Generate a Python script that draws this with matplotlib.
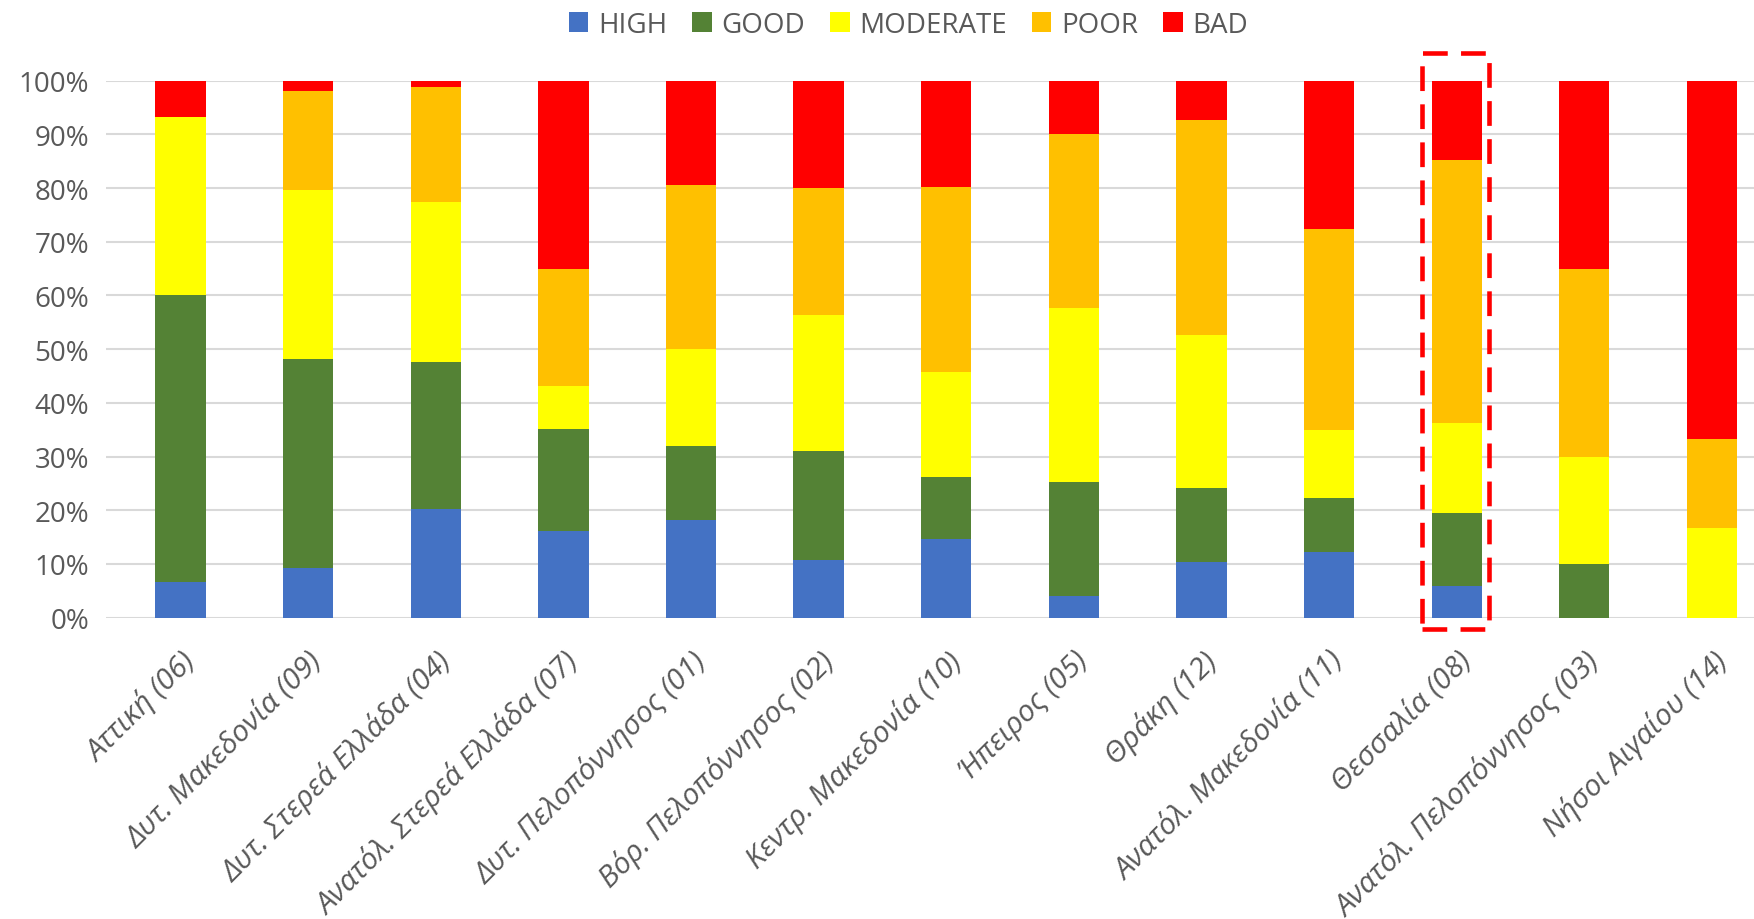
import matplotlib
matplotlib.use("Agg")
import matplotlib.pyplot as plt
from matplotlib.patches import Rectangle
from matplotlib.ticker import PercentFormatter
import numpy as np

regions = [
    "Αττική (06)", "Δυτ. Μακεδονία (09)", "Δυτ. Στερεά Ελλάδα (04)",
    "Ανατόλ. Στερεά Ελλάδα (07)", "Δυτ. Πελοπόννησος (01)",
    "Βόρ. Πελοπόννησος (02)", "Κεντρ. Μακεδονία (10)", "Ήπειρος (05)",
    "Θράκη (12)", "Ανατόλ. Μακεδονία (11)", "Θεσσαλία (08)",
    "Ανατόλ. Πελοπόννησος (03)", "Νήσοι Αιγαίου (14)",
]

# share of water bodies per status class (%)
high = [6.7, 9.3, 20.3, 16.2, 18.1, 10.8, 14.6, 4.1, 10.4, 12.3, 5.8, 0.0, 0.0]
good = [53.3, 38.8, 27.3, 19.0, 13.8, 20.2, 11.5, 21.1, 13.7, 10.0, 13.7, 10.0, 0.0]
moderate = [33.3, 31.6, 29.8, 8.0, 18.1, 25.4, 19.7, 32.5, 28.5, 12.7, 16.7, 20.0, 16.7]
poor = [0.0, 18.3, 21.4, 21.7, 30.6, 23.6, 34.4, 32.4, 40.0, 37.4, 49.0, 35.0, 16.6]
bad = [6.7, 2.0, 1.2, 35.1, 19.4, 20.0, 19.8, 9.9, 7.4, 27.6, 14.8, 35.0, 66.7]

series = [("HIGH", high, "#4472C4"), ("GOOD", good, "#548235"),
          ("MODERATE", moderate, "#FFFF00"), ("POOR", poor, "#FFC000"),
          ("BAD", bad, "#FF0000")]

highlight = "Θεσσαλία (08)"

plt.rcParams["font.family"] = ["Open Sans", "DejaVu Sans"]
grey = "#595959"

fig = plt.figure(figsize=(17.54, 9.2), dpi=100)
ax = fig.add_axes([0.0604, 0.3276, 0.9396, 0.5836])

x = np.arange(len(regions))
bottom = np.zeros(len(regions))
for name, vals, col in series:
    vals = np.array(vals, dtype=float)
    ax.bar(x, vals, 0.394, bottom=bottom, color=col, label=name, zorder=3)
    bottom += vals

ax.set_xlim(-0.585, 12.33)
ax.set_ylim(0, 100)
ax.set_yticks(np.arange(0, 101, 10))
ax.yaxis.set_major_formatter(PercentFormatter(decimals=0))
ax.grid(axis="y", color="#d9d9d9", lw=1.5, zorder=0)
for s in ax.spines.values():
    s.set_visible(False)
ax.tick_params(axis="y", length=0, pad=12, labelsize=20, labelcolor=grey)
ax.tick_params(axis="x", length=0, pad=20)
ax.set_xticks(x)
ax.set_xticklabels(regions, rotation=45, ha="right", va="top",
                   rotation_mode="anchor", fontsize=21.5, style="italic",
                   color=grey)

# dashed frame around the highlighted region
i = regions.index(highlight)
ax.add_patch(Rectangle((i - 0.271, -2.1), 0.525, 107.3, fill=False,
                       ec="#FF0000", lw=3.3, ls=(0, (5.4, 2.9)),
                       clip_on=False, zorder=5))

leg = fig.legend(loc="center", bbox_to_anchor=(0.518, 0.972), ncol=5,
                 frameon=False, fontsize=20, handlelength=0.7,
                 handleheight=0.7, handletextpad=0.35, columnspacing=0.9)
for t in leg.get_texts():
    t.set_color(grey)

fig.savefig("out.png", dpi=100)
